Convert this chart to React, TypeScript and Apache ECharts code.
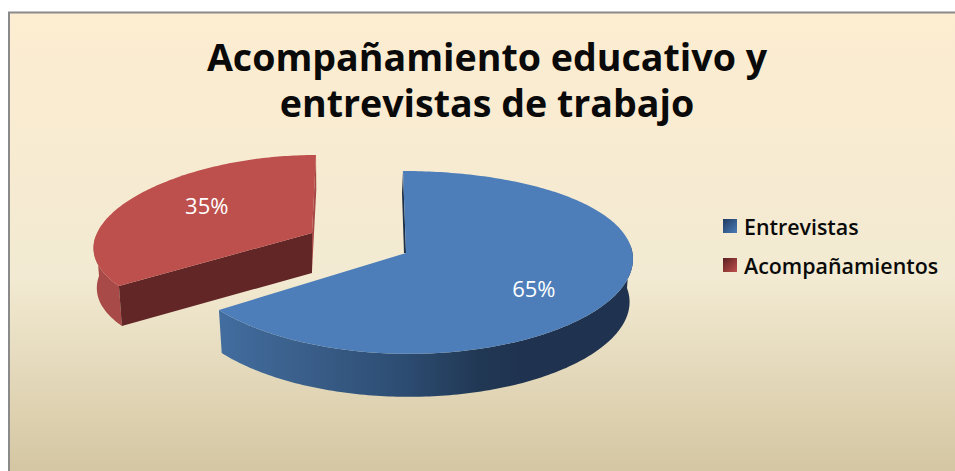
import React, { useEffect, useRef } from "react";
import * as echarts from "echarts";

const sliceNames = ["Entrevistas", "Acompañamientos"];
const sliceValues = [65, 35];
const titleLines = ["Acompañamiento educativo y", "entrevistas de trabajo"];

const total = sliceValues.reduce((a, b) => a + b, 0);
const FONT = "'Open Sans', 'DejaVu Sans', sans-serif";

type Geo = {
  cx: number; cy: number; rx: number; ry: number; p: number; q: number; s: number;
  depth: number; labelR: number; labelDy: number; top: string; wallFrom: number;
  wallStops: [number, string][]; cut: string; sliver: [number, number][]; front?: string;
};

const geos: Geo[] = [
  {
    cx: 406, cy: 253, rx: 226.5, ry: 91.4, p: 0.052, q: 0.103, s: 3, depth: 43,
    labelR: 0.62, labelDy: 9, top: "#4d7eb9", wallFrom: 85,
    wallStops: [[0, "#426d9f"], [0.2, "#3a5f8a"], [0.44, "#2d4d73"], [0.63, "#213854"], [0.73, "#1f3350"], [1, "#1f3350"]],
    cut: "#1c3049", sliver: [[-2, 0], [-1, -60]],
  },
  {
    cx: 312, cy: 233, rx: 215, ry: 85.6, p: 0.164, q: 0.089, s: -4, depth: 40,
    labelR: 0.58, labelDy: -6, top: "#bd4f4c", wallFrom: 234,
    wallStops: [[0, "#a84a47"], [1, "#a84a47"]],
    cut: "#a54846", sliver: [[0, 38], [0.3, -43]], front: "#622626",
  },
];

function project(g: Geo, deg: number, r = 1): [number, number] {
  const t = (deg * Math.PI) / 180;
  const u = Math.sin(t) * r;
  const v = -Math.cos(t) * r;
  return [g.cx + g.rx * u * (1 + g.p * v) + g.s * v, g.cy + g.ry * (v + g.q * v * v)];
}

function lower(g: Geo, pt: [number, number]): [number, number] {
  return [g.cx + (pt[0] - g.cx) * 0.985, pt[1] + g.depth];
}

function arc(g: Geo, a: number, b: number): [number, number][] {
  const out: [number, number][] = [];
  const n = Math.max(2, Math.ceil(Math.abs(b - a)));
  for (let i = 0; i <= n; i++) out.push(project(g, a + ((b - a) * i) / n));
  return out;
}

function makeSeries(index: number) {
  const g = geos[index];
  const before = sliceValues.slice(0, index).reduce((a, b) => a + b, 0);
  return {
    type: "custom",
    name: sliceNames[index],
    coordinateSystem: "none",
    silent: true,
    clip: false,
    itemStyle: { color: g.top },
    data: [{ name: sliceNames[index], value: [sliceValues[index]] }],
    renderItem: (_: any, api: any) => {
      const value = api.value(0) as number;
      const start = (before / total) * 360;
      const end = start + (value / total) * 360;
      const top = arc(g, start, end);
      const apex: [number, number] = [g.cx, g.cy];
      const children: any[] = [];
      const s = project(g, index === 0 ? start : end);
      children.push({
        type: "polygon",
        shape: {
          points: [
            s,
            apex,
            [apex[0] + g.sliver[0][0], apex[1] + g.sliver[0][1]],
            [s[0] + g.sliver[1][0], apex[1] + g.sliver[1][1]],
          ],
        },
        style: { fill: g.cut },
      });
      const wallEnd = index === 0 ? end : g.wallFrom + 34;
      const wallStart = index === 0 ? g.wallFrom : start;
      const wallTop = arc(g, wallStart, wallEnd);
      children.push({
        type: "polygon",
        shape: { points: [...wallTop, ...wallTop.map((p) => lower(g, p)).reverse()] },
        style: {
          fill: new echarts.graphic.LinearGradient(
            0, 0, 1, 0,
            g.wallStops.map(([offset, color]) => ({ offset, color }))
          ),
        },
      });
      if (g.front) {
        const tip = project(g, start);
        children.push({
          type: "polygon",
          shape: { points: [apex, tip, lower(g, tip), lower(g, apex)] },
          style: { fill: g.front },
        });
      }
      children.push({
        type: "polygon",
        shape: { points: [apex, ...top] },
        style: { fill: g.top },
      });
      const mid = (start + end) / 2;
      const lp = project(g, mid, g.labelR);
      children.push({
        type: "text",
        x: lp[0],
        y: lp[1] + g.labelDy,
        style: {
          text: `${Math.round((value / total) * 100)}%`,
          fill: "#ffffff",
          font: `400 22px ${FONT}`,
          textAlign: "center",
          textVerticalAlign: "middle",
        },
      });
      return { type: "group", children };
    },
  };
}

function swatch(a: string, b: string) {
  return new echarts.graphic.LinearGradient(0, 0, 1, 1, [
    { offset: 0, color: a },
    { offset: 1, color: b },
  ]);
}

export default function App() {
  const ref = useRef<HTMLDivElement>(null);
  useEffect(() => {
    document.body.style.margin = "0";
    const chart = echarts.init(ref.current!, undefined, { renderer: "svg" });
    chart.setOption({
      animation: false,
      backgroundColor: "#ffffff",
      title: {
        text: titleLines.join("\n"),
        left: 482,
        top: 28,
        textAlign: "center",
        textStyle: { fontFamily: FONT, fontWeight: 700, fontSize: 37.6, lineHeight: 46, color: "#0a0a0a" },
      },
      legend: {
        orient: "vertical",
        left: 723,
        top: 214,
        padding: 0,
        itemWidth: 14,
        itemHeight: 14,
        itemGap: 15,
        icon: "rect",
        textStyle: { fontFamily: FONT, fontWeight: 600, fontSize: 21.4, lineHeight: 24, color: "#0a0a0a", padding: [0, 0, 0, 2] },
        data: [
          { name: sliceNames[0], itemStyle: { color: swatch("#1f3a60", "#4b7cb8") } },
          { name: sliceNames[1], itemStyle: { color: swatch("#5a2020", "#c0504d") } },
        ],
      },
      graphic: [
        {
          type: "rect",
          z: -10,
          silent: true,
          shape: { x: 9, y: 12.5, width: 960, height: 480 },
          style: {
            stroke: "#8a8a8a",
            lineWidth: 2,
            fill: new echarts.graphic.LinearGradient(0, 0, 0, 1, [
              { offset: 0, color: "#fdedd1" },
              { offset: 0.55, color: "#f2ead2" },
              { offset: 0.95, color: "#d5c7a3" },
              { offset: 1, color: "#d5c7a3" },
            ]),
          },
        },
      ],
      series: [makeSeries(0), makeSeries(1)],
    });
    return () => chart.dispose();
  }, []);
  return <div ref={ref} style={{ width: 955, height: 471 }} />;
}
